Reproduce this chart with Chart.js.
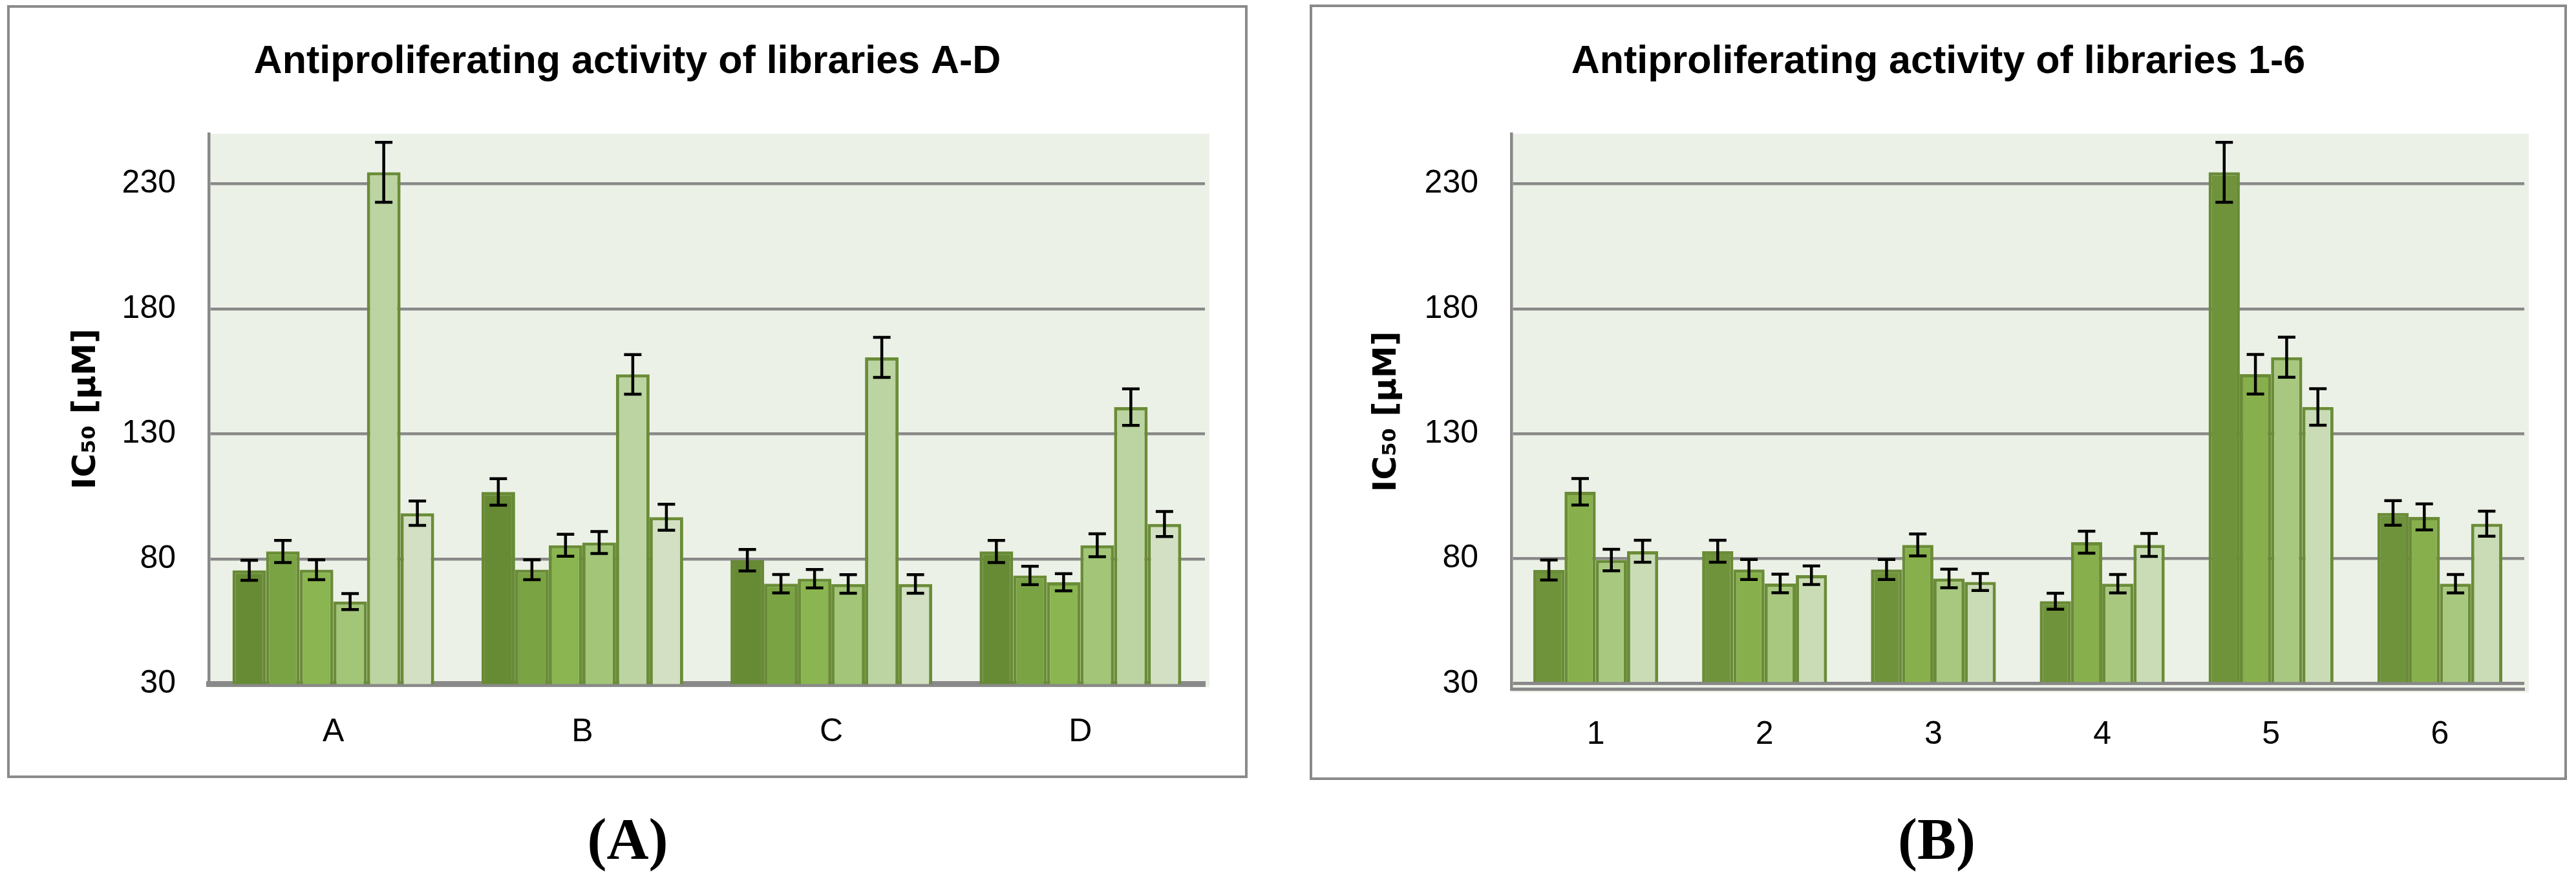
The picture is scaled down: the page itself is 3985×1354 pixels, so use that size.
<!DOCTYPE html>
<html>
<head>
<meta charset="utf-8">
<script src="https://cdn.jsdelivr.net/npm/chart.js@4.4.1/dist/chart.umd.min.js"></script>
<style>
  html, body { margin: 0; padding: 0; background: #fff; }
  body { width: 3985px; height: 1354px; position: relative; overflow: hidden; }
  .frame { position: absolute; box-sizing: border-box; border: 4.5px solid #8a8a8a; }
  canvas { position: absolute; }
  .panel-label {
    position: absolute; transform: translateX(-50%); line-height: 1;
    font-family: 'Liberation Serif', serif; font-weight: bold; font-size: 90px; color: #000;
  }
</style>
</head>
<body>
<div class="frame" style="left:11px; top:8px; width:1919px; height:1196px;"></div>
<canvas id="chartLetters" width="1911" height="1188" style="left:15px; top:12px;"></canvas>
<div class="frame" style="left:2026px; top:7px; width:1945px; height:1200px;"></div>
<canvas id="chartNumbers" width="1937" height="1192" style="left:2030px; top:11px;"></canvas>
<div class="panel-label" style="left:971px; top:1254px;">(A)</div>
<div class="panel-label" style="left:2996px; top:1254px;">(B)</div>

<script>
'use strict';

const librariesAD = ['A', 'B', 'C', 'D'];
const libraries16 = ['1', '2', '3', '4', '5', '6'];
const yTickValues = [30, 80, 130, 180, 230];

// IC50 [uM] of compound libraries 1-6, one value per library A-D
const lib1 = [75.5, 106.8, 79.5, 83];
const lib2 = [83, 75.7, 70.1, 73.4];
const lib3 = [75.7, 85.5, 72.1, 70.7];
const lib4 = [63, 86.6, 70, 85.5];
const lib5 = [234.6, 153.8, 160.6, 140.7];
const lib6 = [98.3, 96.7, 70, 94];

// error bar half-lengths, same layout
const err1 = [4, 5.3, 4.3, 4.4];
const err2 = [4.4, 4, 3.7, 3.7];
const err3 = [4, 4.4, 3.7, 3.4];
const err4 = [3.2, 4.4, 3.7, 4.6];
const err5 = [12, 7.9, 8, 7.3];
const err6 = [4.9, 5.2, 3.7, 5];

const values16 = [lib1, lib2, lib3, lib4, lib5, lib6];
const errors16 = [err1, err2, err3, err4, err5, err6];

const colorsLetters = ['#678a35', '#7aa344', '#8ab550', '#a2c577', '#bbd4a2', '#d3e0c3'];
const colorsNumbers = ['#6f933a', '#87b04c', '#a8c880', '#c9dcb6'];
const GRID = '#898989';
const BAR_EDGE = '#6a8c37';

Chart.defaults.font.family = "'Liberation Sans', Arial, sans-serif";
Chart.defaults.color = '#000';

const plotBackground = {
  id: 'plotBackground',
  beforeDraw: function (chart) {
    const area = chart.chartArea;
    const ctx = chart.ctx;
    ctx.save();
    ctx.fillStyle = '#ecf1e7';
    ctx.fillRect(area.left, area.top, area.right - area.left + 7, area.bottom - area.top + 5);
    ctx.restore();
  }
};

const errorBars = {
  id: 'errorBars',
  afterDatasetsDraw: function (chart) {
    const ctx = chart.ctx;
    const yScale = chart.scales.y;
    ctx.save();
    ctx.strokeStyle = '#000';
    ctx.lineWidth = 4.5;
    chart.data.datasets.forEach(function (dataset, i) {
      const meta = chart.getDatasetMeta(i);
      meta.data.forEach(function (bar, j) {
        const v = dataset.data[j];
        const e = dataset.errors[j];
        const top = yScale.getPixelForValue(v + e);
        const bottom = yScale.getPixelForValue(v - e);
        ctx.beginPath();
        ctx.moveTo(bar.x, top);
        ctx.lineTo(bar.x, bottom);
        ctx.moveTo(bar.x - 13.5, top);
        ctx.lineTo(bar.x + 13.5, top);
        ctx.moveTo(bar.x - 13.5, bottom);
        ctx.lineTo(bar.x + 13.5, bottom);
        ctx.stroke();
      });
    });
    ctx.restore();
  }
};

function buildChart(canvasId, cfg) {
  return new Chart(document.getElementById(canvasId), {
    type: 'bar',
    data: { labels: cfg.labels, datasets: cfg.datasets },
    options: {
      responsive: false,
      animation: false,
      devicePixelRatio: 1,
      layout: { padding: { left: cfg.side, right: cfg.side, top: 0, bottom: 0 } },
      datasets: {
        bar: {
          categoryPercentage: cfg.catPct,
          barPercentage: 1,
          borderWidth: 5,
          borderColor: BAR_EDGE
        }
      },
      plugins: {
        legend: { display: false },
        tooltip: { enabled: false },
        title: {
          display: true,
          text: cfg.title,
          color: '#000',
          font: { size: 61, weight: 'bold' },
          padding: { top: cfg.titleTop, bottom: cfg.titleBottom }
        }
      },
      scales: {
        x: {
          grid: { display: false, drawTicks: false },
          border: { display: true, color: GRID, width: cfg.axisWidth },
          ticks: { font: { size: 50 }, padding: cfg.xPad },
          afterFit: function (scale) { scale.height = cfg.xHeight; }
        },
        y: {
          min: cfg.yMin,
          max: 250,
          afterBuildTicks: function (scale) {
            scale.ticks = yTickValues.map(function (v) { return { value: v }; });
          },
          afterFit: function (scale) { scale.width = cfg.yWidth; },
          grid: {
            color: GRID,
            drawTicks: false,
            lineWidth: function (ctx) {
              return ctx.tick && ctx.tick.value === yTickValues[0] ? cfg.baseWidth : 4.5;
            }
          },
          border: { display: true, color: GRID, width: 4.5 },
          ticks: { font: { size: 50 }, padding: 51 },
          title: {
            display: true,
            text: 'IC₅₀ [µM]',
            color: '#000',
            font: { family: "'DejaVu Sans', sans-serif", size: 50, weight: 'bold' },
            padding: { top: cfg.yTitlePad, bottom: 0 }
          }
        }
      }
    },
    plugins: [plotBackground, errorBars]
  });
}

// (A): libraries A-D on the axis, one bar per compound library 1-6
buildChart('chartLetters', {
  labels: librariesAD,
  title: 'Antiproliferating activity of libraries A-D',
  datasets: values16.map(function (values, k) {
    return {
      label: libraries16[k],
      data: values,
      errors: errors16[k],
      backgroundColor: colorsLetters[k],
      borderColor: k === 0 ? colorsLetters[0] : BAR_EDGE
    };
  }),
  side: 62, yWidth: 246, yTitlePad: 27,
  titleTop: 47.4, titleBottom: 74.4,
  xHeight: 141.5, xPad: 44.5,
  yMin: 30, baseWidth: 9, axisWidth: 9, catPct: 0.81
});

// (B): libraries 1-6 on the axis, one bar per library A-D
buildChart('chartNumbers', {
  labels: libraries16,
  title: 'Antiproliferating activity of libraries 1-6',
  datasets: librariesAD.map(function (letter, k) {
    return {
      label: letter,
      data: values16.map(function (values) { return values[k]; }),
      errors: errors16.map(function (errs) { return errs[k]; }),
      base: 30,
      backgroundColor: colorsNumbers[k],
      borderColor: BAR_EDGE
    };
  }),
  side: 62, yWidth: 246, yTitlePad: 24,
  titleTop: 48.4, titleBottom: 74.4,
  xHeight: 136.5, xPad: 40.5,
  yMin: 27.8, baseWidth: 5, axisWidth: 5, catPct: 0.74
});
</script>
</body>
</html>
